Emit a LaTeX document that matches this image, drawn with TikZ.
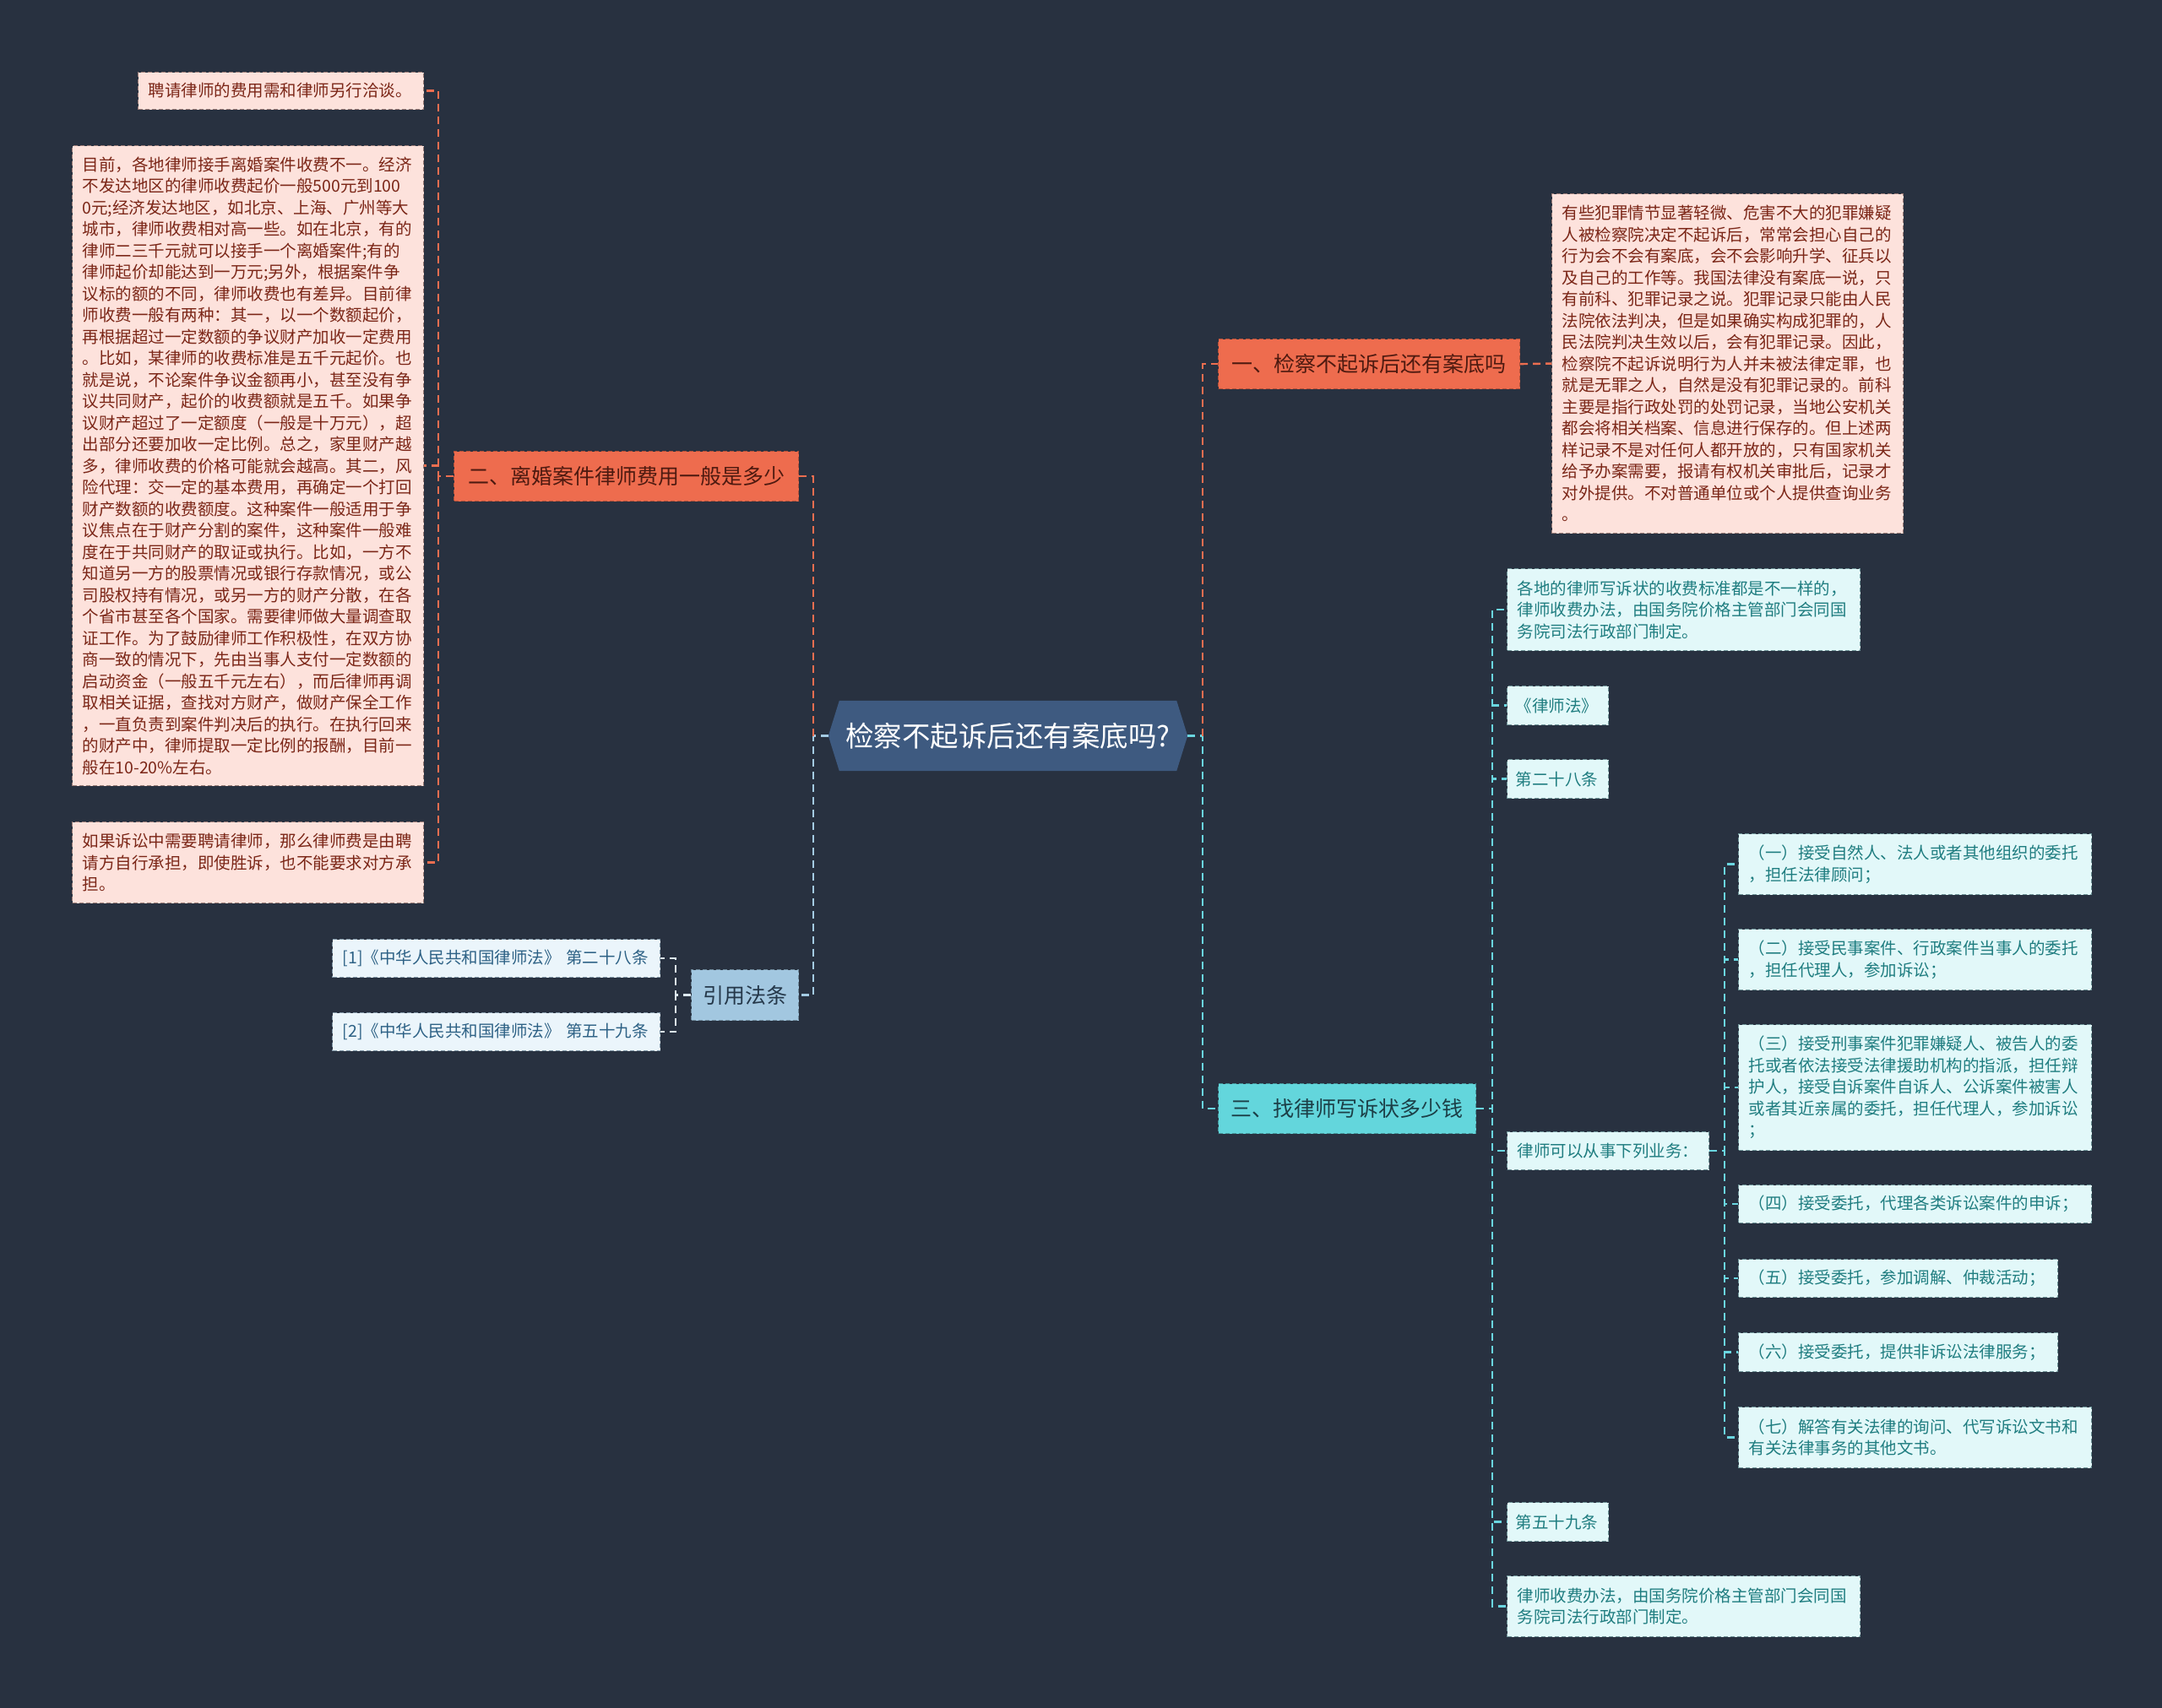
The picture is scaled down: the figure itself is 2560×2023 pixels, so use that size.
\documentclass[tikz,border=0pt]{standalone}
\usepackage{fontspec}
\setmainfont{Noto Sans CJK SC}
\usetikzlibrary{backgrounds}
\definecolor{bg}{HTML}{283140}
\definecolor{rootfill}{HTML}{3E5A80}
\definecolor{orfill}{HTML}{EE6C4E}
\definecolor{ortext}{HTML}{4E1A10}
\definecolor{pinkfill}{HTML}{FDE2DC}
\definecolor{pinktext}{HTML}{7B2617}
\definecolor{pinkdraw}{HTML}{9A7C77}
\definecolor{cyfill}{HTML}{63D6DC}
\definecolor{cytext}{HTML}{1C3F47}
\definecolor{lcfill}{HTML}{E2F8F9}
\definecolor{lctext}{HTML}{1F7D80}
\definecolor{lcdraw}{HTML}{6F9498}
\definecolor{rbfill}{HTML}{A2C7E0}
\definecolor{rbtext}{HTML}{25384A}
\definecolor{rlfill}{HTML}{EBF5FB}
\definecolor{rltext}{HTML}{2D6185}
\definecolor{rldraw}{HTML}{8196A6}
\definecolor{orconn}{HTML}{EC6E50}
\definecolor{lbconn}{HTML}{A4CBE3}
\definecolor{cyconn}{HTML}{6AD6E0}
\definecolor{wconn}{HTML}{DCE8F0}
\tikzset{
  box/.style={rectangle, anchor=north west, inner xsep=12pt, inner ysep=0pt,
    dash pattern=on 5pt off 3pt, line width=1.2pt, align=left},
  small/.style={font=\fontsize{19.5}{25.5}\selectfont},
  pinkbox/.style={box, small, fill=pinkfill, draw=pinkdraw, text=pinktext},
  lcbox/.style={box, small, fill=lcfill, draw=lcdraw, text=lctext},
  rlbox/.style={box, small, fill=rlfill, draw=rldraw, text=rltext},
  branch/.style={rectangle, anchor=north west, inner sep=0pt, align=center,
    dash pattern=on 5pt off 3pt, line width=1.2pt,
    font=\fontsize{25}{30}\selectfont},
  orbranch/.style={branch, fill=orfill, draw=orfill!75!black, text=ortext},
  cybranch/.style={branch, fill=cyfill, draw=cyfill!70!black, text=cytext},
  rbbranch/.style={branch, fill=rbfill, draw=rbfill!70!black, text=rbtext},
  conn/.style={line width=2.4pt, dash pattern=on 9pt off 6pt}
}
\begin{document}
\begin{tikzpicture}[x=1pt,y=-1pt]
\begin{scope}[on background layer]
\fill[bg] (0,0) rectangle (2560,2023);
\end{scope}
\useasboundingbox (0,0) rectangle (2560,2023);

% root
\node[font=\fontsize{33.5}{40}\selectfont, text=white, minimum width=425pt,
  minimum height=83pt, inner sep=0pt] (root) at (1193.5,871.5) {检察不起诉后还有案底吗?};
\begin{scope}[on background layer]
\fill[rootfill] ([xshift=13pt]root.north west) -- ([xshift=-13pt]root.north east)
  -- (root.east) -- ([xshift=-13pt]root.south east) -- ([xshift=13pt]root.south west)
  -- (root.west) -- cycle;
\end{scope}

% branches
\node[orbranch, minimum width=357pt, minimum height=59pt] (b1) at (1442,401) {一、检察不起诉后还有案底吗};
\node[orbranch, minimum width=408pt, minimum height=59pt] (b2) at (537,534) {二、离婚案件律师费用一般是多少};
\node[rbbranch, minimum width=127pt, minimum height=60pt] (b3) at (818,1148) {引用法条};
\node[cybranch, minimum width=305pt, minimum height=59pt] (b4) at (1442,1283) {三、找律师写诉状多少钱};

% branch 1 child
\node[pinkbox, text width=392pt, minimum height=402pt] (n1) at (1837,229) {有些犯罪情节显著轻微、危害不大的犯罪嫌疑\\人被检察院决定不起诉后，常常会担心自己的\\行为会不会有案底，会不会影响升学、征兵以\\及自己的工作等。我国法律没有案底一说，只\\有前科、犯罪记录之说。犯罪记录只能由人民\\法院依法判决，但是如果确实构成犯罪的，人\\民法院判决生效以后，会有犯罪记录。因此，\\检察院不起诉说明行为人并未被法律定罪，也\\就是无罪之人，自然是没有犯罪记录的。前科\\主要是指行政处罚的处罚记录，当地公安机关\\都会将相关档案、信息进行保存的。但上述两\\样记录不是对任何人都开放的，只有国家机关\\给予办案需要，报请有权机关审批后，记录才\\对外提供。不对普通单位或个人提供查询业务\\。};

% branch 2 children
\node[pinkbox, text width=314pt, minimum height=44pt] (L1) at (163,85) {聘请律师的费用需和律师另行洽谈。};
\node[pinkbox, text width=392pt, minimum height=758pt] (L2) at (85,172) {目前，各地律师接手离婚案件收费不一。经济\\不发达地区的律师收费起价一般500元到100\\0元;经济发达地区，如北京、上海、广州等大\\城市，律师收费相对高一些。如在北京，有的\\律师二三千元就可以接手一个离婚案件;有的\\律师起价却能达到一万元;另外，根据案件争\\议标的额的不同，律师收费也有差异。目前律\\师收费一般有两种：其一，以一个数额起价，\\再根据超过一定数额的争议财产加收一定费用\\。比如，某律师的收费标准是五千元起价。也\\就是说，不论案件争议金额再小，甚至没有争\\议共同财产，起价的收费额就是五千。如果争\\议财产超过了一定额度（一般是十万元），超\\出部分还要加收一定比例。总之，家里财产越\\多，律师收费的价格可能就会越高。其二，风\\险代理：交一定的基本费用，再确定一个打回\\财产数额的收费额度。这种案件一般适用于争\\议焦点在于财产分割的案件，这种案件一般难\\度在于共同财产的取证或执行。比如，一方不\\知道另一方的股票情况或银行存款情况，或公\\司股权持有情况，或另一方的财产分散，在各\\个省市甚至各个国家。需要律师做大量调查取\\证工作。为了鼓励律师工作积极性，在双方协\\商一致的情况下，先由当事人支付一定数额的\\启动资金（一般五千元左右），而后律师再调\\取相关证据，查找对方财产，做财产保全工作\\，一直负责到案件判决后的执行。在执行回来\\的财产中，律师提取一定比例的报酬，目前一\\般在10-20\%左右。};
\node[pinkbox, text width=392pt, minimum height=96pt] (L3) at (85,973) {如果诉讼中需要聘请律师，那么律师费是由聘\\请方自行承担，即使胜诉，也不能要求对方承\\担。};

% branch 3 children
\node[rlbox, text width=364pt, minimum height=45pt] (R1) at (393,1112) {[1]《中华人民共和国律师法》 第二十八条};
\node[rlbox, text width=364pt, minimum height=45pt] (R2) at (393,1199) {[2]《中华人民共和国律师法》 第五十九条};

% branch 4 children
\node[lcbox, text width=394pt, minimum height=97pt] (c1) at (1784,673) {各地的律师写诉状的收费标准都是不一样的，\\律师收费办法，由国务院价格主管部门会同国\\务院司法行政部门制定。};
\node[lcbox, inner xsep=10pt, text width=100pt, minimum height=46pt] (c2) at (1784,812) {《律师法》};
\node[lcbox, inner xsep=10pt, text width=100pt, minimum height=46pt] (c3) at (1784,899) {第二十八条};
\node[lcbox, text width=215pt, minimum height=45pt] (c4) at (1784,1340) {律师可以从事下列业务：};
\node[lcbox, inner xsep=10pt, text width=100pt, minimum height=46pt] (c5) at (1784,1779) {第五十九条};
\node[lcbox, text width=394pt, minimum height=72pt] (c6) at (1784,1866) {律师收费办法，由国务院价格主管部门会同国\\务院司法行政部门制定。};

% grandchildren
\node[lcbox, text width=394pt, minimum height=72pt] (g1) at (2058,987) {（一）接受自然人、法人或者其他组织的委托\\，担任法律顾问；};
\node[lcbox, text width=394pt, minimum height=72pt] (g2) at (2058,1100) {（二）接受民事案件、行政案件当事人的委托\\，担任代理人，参加诉讼；};
\node[lcbox, text width=394pt, minimum height=149pt] (g3) at (2058,1213) {（三）接受刑事案件犯罪嫌疑人、被告人的委\\托或者依法接受法律援助机构的指派，担任辩\\护人，接受自诉案件自诉人、公诉案件被害人\\或者其近亲属的委托，担任代理人，参加诉讼\\；};
\node[lcbox, text width=394pt, minimum height=45pt] (g4) at (2058,1403) {（四）接受委托，代理各类诉讼案件的申诉；};
\node[lcbox, text width=354pt, minimum height=45pt] (g5) at (2058,1491) {（五）接受委托，参加调解、仲裁活动；};
\node[lcbox, text width=354pt, minimum height=46pt] (g6) at (2058,1578) {（六）接受委托，提供非诉讼法律服务；};
\node[lcbox, text width=394pt, minimum height=72pt] (g7) at (2058,1666) {（七）解答有关法律的询问、代写诉讼文书和\\有关法律事务的其他文书。};

% connectors from root
\draw[conn, draw=lbconn] (root.west) -- ++(-18,0) |- (b3.east);
\draw[conn, draw=orconn] (root.west) ++(-18,0) |- (b2.east);
\draw[conn, draw=cyconn] (root.east) -- ++(18,0) |- (b4.west);
\draw[conn, draw=orconn] (root.east) ++(18,0) |- (b1.west);
\draw[conn, draw=orconn] (b1.east) -- (n1.west);
\foreach \c in {L1,L2,L3} \draw[conn, draw=orconn] (b2.west) -- ++(-18,0) |- (\c.east);
\foreach \c in {R1,R2} \draw[conn, draw=wconn] (b3.west) -- ++(-18,0) |- (\c.east);
\foreach \c in {c1,c2,c3,c4,c5,c6} \draw[conn, draw=cyconn] (b4.east) -- ++(19,0) |- (\c.west);
\foreach \c in {g1,g2,g3,g4,g5,g6,g7} \draw[conn, draw=cyconn] (c4.east) -- ++(18,0) |- (\c.west);
\end{tikzpicture}
\end{document}
